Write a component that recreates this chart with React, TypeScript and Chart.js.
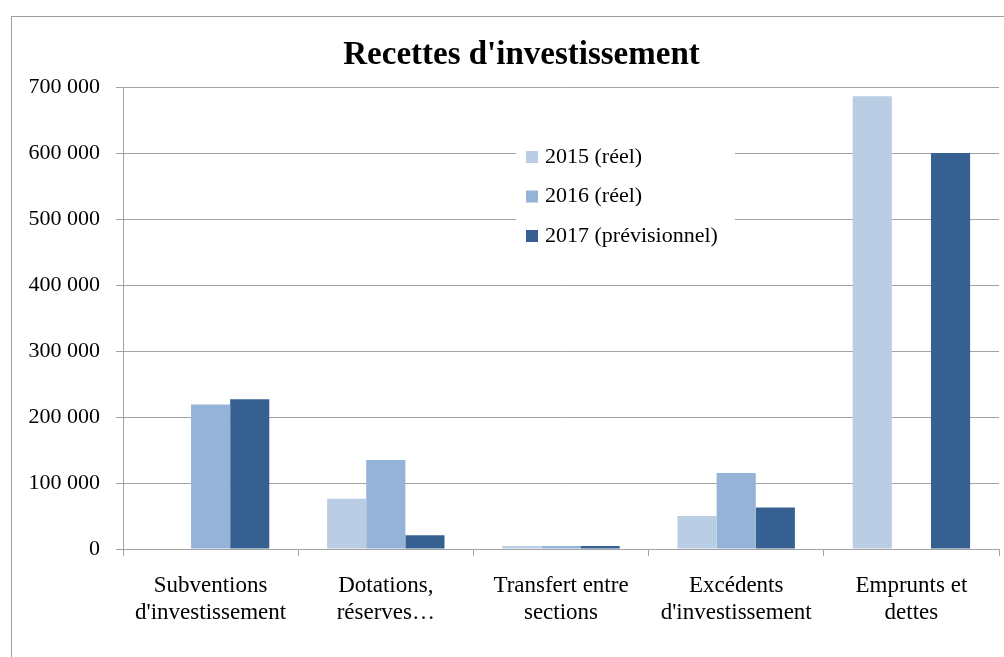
import React, { useEffect, useRef } from "react";
import { Chart, registerables } from "chart.js";

Chart.register(...registerables);

const titleText = "Recettes d'investissement";
const categories: string[][] = [
  ["Subventions", "d'investissement"],
  ["Dotations,", "réserves…"],
  ["Transfert entre", "sections"],
  ["Excédents", "d'investissement"],
  ["Emprunts et", "dettes"],
];
const seriesLabels = ["2015 (réel)", "2016 (réel)", "2017 (prévisionnel)"];
const values2015 = [0, 76000, 4500, 50000, 686000];
const values2016 = [219000, 135000, 4500, 115000, 0];
const values2017 = [227000, 21000, 4500, 63000, 600000];
const seriesColors = ["#B9CDE5", "#95B3D7", "#376092"];
const yMin = 0;
const yMax = 700000;
const yStep = 100000;

const FONT = "'Liberation Serif', 'Times New Roman', serif";
const GRID = "#a3a3a3";

const formatTick = (v: number) =>
  String(Math.round(v)).replace(/\B(?=(\d{3})+(?!\d))/g, " ");

// Shift the title block so it is centred on the whole frame, not the plot
const titleShiftPlugin = {
  id: "titleShift",
  afterLayout(chart: any) {
    const tb = chart.titleBlock;
    if (tb) {
      tb.left += 16;
      tb.right += 16;
    }
  },
};

const legendPlugin = {
  id: "boxLegend",
  afterDatasetsDraw(chart: any) {
    const { ctx, chartArea } = chart;
    const left = chartArea.left + 393;
    const top = chartArea.top + 53;
    const w = 219;
    const h = 113;
    ctx.save();
    ctx.fillStyle = "#ffffff";
    ctx.fillRect(left, top, w, h);
    ctx.font = `22px ${FONT}`;
    ctx.textBaseline = "middle";
    ctx.textAlign = "left";
    chart.data.datasets.forEach((ds: any, i: number) => {
      const cy = top + 17 + i * 39.5;
      ctx.fillStyle = ds.backgroundColor;
      ctx.fillRect(left + 10, cy - 6, 12, 12);
      ctx.fillStyle = "#000000";
      ctx.fillText(ds.label, left + 29, cy);
    });
    ctx.restore();
  },
};

export default function App() {
  const ref = useRef<HTMLCanvasElement | null>(null);

  useEffect(() => {
    if (!ref.current) return;
    const datasetsValues = [values2015, values2016, values2017];
    const chart = new Chart(ref.current, {
      type: "bar",
      data: {
        labels: categories,
        datasets: datasetsValues.map((vals, i) => ({
          label: seriesLabels[i],
          data: vals,
          backgroundColor: seriesColors[i],
          borderWidth: 0,
          categoryPercentage: 0.67,
          barPercentage: 1,
        })),
      },
      options: {
        responsive: false,
        animation: false,
        devicePixelRatio: 1,
        layout: { padding: { left: 0, right: 31, top: 0, bottom: 0 } },
        plugins: {
          legend: { display: false },
          tooltip: { enabled: false },
          title: {
            display: true,
            text: titleText,
            color: "#000000",
            font: { family: FONT, size: 33, weight: "bold", lineHeight: 1.2 },
            padding: { top: 19, bottom: 11.4 },
          },
        },
        scales: {
          x: {
            grid: {
              display: true,
              drawOnChartArea: false,
              drawTicks: true,
              tickLength: 7,
              color: GRID,
              offset: true,
            },
            border: { display: true, color: GRID, width: 1 },
            ticks: {
              color: "#000000",
              font: { family: FONT, size: 23, lineHeight: 1.18 },
              padding: 16,
              maxRotation: 0,
              autoSkip: false,
            },
            afterFit: (scale: any) => {
              scale.height = 108;
            },
          },
          y: {
            min: yMin,
            max: yMax,
            grid: {
              color: GRID,
              lineWidth: 1,
              drawTicks: true,
              tickLength: 7,
            },
            border: { display: true, color: GRID, width: 1 },
            ticks: {
              stepSize: yStep,
              color: "#000000",
              font: { family: FONT, size: 22 },
              padding: 16,
              callback: (v: any) => formatTick(Number(v)),
            },
            afterFit: (scale: any) => {
              scale.width = 111;
            },
          },
        },
      },
      plugins: [titleShiftPlugin, legendPlugin],
    });
    return () => chart.destroy();
  }, []);

  return (
    <div
      style={{
        position: "absolute",
        left: 11,
        top: 16,
        width: 992,
        height: 640,
        overflow: "hidden",
        borderLeft: "1px solid #a0a0a0",
        borderTop: "1px solid #a0a0a0",
        background: "#ffffff",
      }}
    >
      <canvas
        ref={ref}
        width={1018}
        height={640}
        style={{ display: "block", width: 1018, height: 640 }}
      />
    </div>
  );
}
